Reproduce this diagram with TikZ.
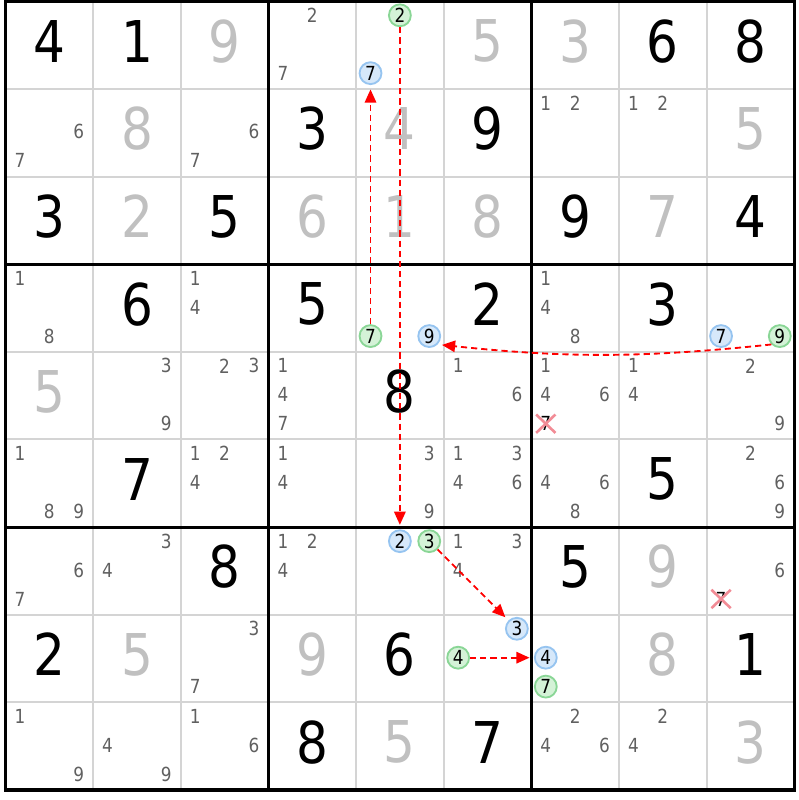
\documentclass[tikz,border=0pt]{standalone}
\usepackage{fontspec}
\setmainfont{DejaVu Sans}[FakeStretch=0.87]
\usepackage{tikz}
\usetikzlibrary{arrows.meta,shapes.misc}

\definecolor{solvedgray}{RGB}{192,192,192}
\definecolor{candgray}{RGB}{96,96,96}
\definecolor{rulegray}{RGB}{212,212,212}
\definecolor{pickfill}{RGB}{214,232,250}
\definecolor{pickline}{RGB}{150,196,240}
\definecolor{linkfill}{RGB}{212,242,215}
\definecolor{linkline}{RGB}{138,214,150}
\definecolor{elimred}{RGB}{242,140,150}

\begin{document}
\begin{tikzpicture}[>={Triangle[length=1.5mm,width=1.3mm]},
    given/.style={inner sep=0pt,font=\fontsize{18.7}{20}\selectfont,text=black},
    solved/.style={given,text=solvedgray},
    cand/.style={inner sep=0pt,font=\fontsize{6.3}{7}\selectfont,text=candgray},
    pick/.style={cand,circle,draw=pickline,fill=pickfill,text=black,minimum size=0.25cm,line width=0.6pt},
    link/.style={pick,draw=linkline,fill=linkfill},
    elim/.style={cand,cross out,draw=elimred,line width=0.85pt,minimum width=0.19cm,minimum height=0.18cm,text=black},
    thinrule/.style={draw=rulegray,line width=0.65pt},
    thickrule/.style={draw=black,line width=1pt},
    linkarrow/.style={->,red,line width=0.6pt,dash pattern=on 2pt off 1.3pt,shorten >=0.05cm}]
      \useasboundingbox (-0.063,0.015) rectangle (9.051,-9.114);

      \draw[thinrule] (1,0) -- (1,-9);
      \draw[thinrule] (2,0) -- (2,-9);
      \draw[thinrule] (4,0) -- (4,-9);
      \draw[thinrule] (5,0) -- (5,-9);
      \draw[thinrule] (7,0) -- (7,-9);
      \draw[thinrule] (8,0) -- (8,-9);
      \draw[thinrule] (0,-1) -- (9,-1);
      \draw[thinrule] (0,-2) -- (9,-2);
      \draw[thinrule] (0,-4) -- (9,-4);
      \draw[thinrule] (0,-5) -- (9,-5);
      \draw[thinrule] (0,-7) -- (9,-7);
      \draw[thinrule] (0,-8) -- (9,-8);
      \draw[thickrule] (3,0) -- (3,-9);
      \draw[thickrule] (6,0) -- (6,-9);
      \draw[thickrule] (0,-3) -- (9,-3);
      \draw[thickrule] (0,-6) -- (9,-6);
      \draw[thickrule] (0,0) rectangle (9,-9);

      \node[given] (d11) at (0.5,-0.455) {4};
      \node[given] (d12) at (1.5,-0.455) {1};
      \node[solved] (d13) at (2.5,-0.455) {9};
      \node[cand] (c142) at (3.5,-0.16) {2};
      \node[cand] (c147) at (3.165,-0.82) {7};
      \node[link] (c152) at (4.5,-0.16) {2};
      \node[pick] (c157) at (4.165,-0.82) {7};
      \node[solved] (d16) at (5.5,-0.455) {5};
      \node[solved] (d17) at (6.5,-0.455) {3};
      \node[given] (d18) at (7.5,-0.455) {6};
      \node[given] (d19) at (8.5,-0.455) {8};

      \node[cand] (c216) at (0.835,-1.49) {6};
      \node[cand] (c217) at (0.165,-1.82) {7};
      \node[solved] (d22) at (1.5,-1.455) {8};
      \node[cand] (c236) at (2.835,-1.49) {6};
      \node[cand] (c237) at (2.165,-1.82) {7};
      \node[given] (d24) at (3.5,-1.455) {3};
      \node[solved] (d25) at (4.5,-1.455) {4};
      \node[given] (d26) at (5.5,-1.455) {9};
      \node[cand] (c271) at (6.165,-1.16) {1};
      \node[cand] (c272) at (6.5,-1.16) {2};
      \node[cand] (c281) at (7.165,-1.16) {1};
      \node[cand] (c282) at (7.5,-1.16) {2};
      \node[solved] (d29) at (8.5,-1.455) {5};

      \node[given] (d31) at (0.5,-2.455) {3};
      \node[solved] (d32) at (1.5,-2.455) {2};
      \node[given] (d33) at (2.5,-2.455) {5};
      \node[solved] (d34) at (3.5,-2.455) {6};
      \node[solved] (d35) at (4.5,-2.455) {1};
      \node[solved] (d36) at (5.5,-2.455) {8};
      \node[given] (d37) at (6.5,-2.455) {9};
      \node[solved] (d38) at (7.5,-2.455) {7};
      \node[given] (d39) at (8.5,-2.455) {4};

      \node[cand] (c411) at (0.165,-3.16) {1};
      \node[cand] (c418) at (0.5,-3.82) {8};
      \node[given] (d42) at (1.5,-3.455) {6};
      \node[cand] (c431) at (2.165,-3.16) {1};
      \node[cand] (c434) at (2.165,-3.49) {4};
      \node[given] (d44) at (3.5,-3.455) {5};
      \node[link] (c457) at (4.165,-3.82) {7};
      \node[pick] (c459) at (4.835,-3.82) {9};
      \node[given] (d46) at (5.5,-3.455) {2};
      \node[cand] (c471) at (6.165,-3.16) {1};
      \node[cand] (c474) at (6.165,-3.49) {4};
      \node[cand] (c478) at (6.5,-3.82) {8};
      \node[given] (d48) at (7.5,-3.455) {3};
      \node[pick] (c497) at (8.165,-3.82) {7};
      \node[link] (c499) at (8.835,-3.82) {9};

      \node[solved] (d51) at (0.5,-4.455) {5};
      \node[cand] (c523) at (1.835,-4.16) {3};
      \node[cand] (c529) at (1.835,-4.82) {9};
      \node[cand] (c532) at (2.5,-4.16) {2};
      \node[cand] (c533) at (2.835,-4.16) {3};
      \node[cand] (c541) at (3.165,-4.16) {1};
      \node[cand] (c544) at (3.165,-4.49) {4};
      \node[cand] (c547) at (3.165,-4.82) {7};
      \node[given] (d55) at (4.5,-4.455) {8};
      \node[cand] (c561) at (5.165,-4.16) {1};
      \node[cand] (c566) at (5.835,-4.49) {6};
      \node[cand] (c571) at (6.165,-4.16) {1};
      \node[cand] (c574) at (6.165,-4.49) {4};
      \node[cand] (c576) at (6.835,-4.49) {6};
      \node[elim] (c577) at (6.165,-4.82) {7};
      \node[cand] (c581) at (7.165,-4.16) {1};
      \node[cand] (c584) at (7.165,-4.49) {4};
      \node[cand] (c592) at (8.5,-4.16) {2};
      \node[cand] (c599) at (8.835,-4.82) {9};

      \node[cand] (c611) at (0.165,-5.16) {1};
      \node[cand] (c618) at (0.5,-5.82) {8};
      \node[cand] (c619) at (0.835,-5.82) {9};
      \node[given] (d62) at (1.5,-5.455) {7};
      \node[cand] (c631) at (2.165,-5.16) {1};
      \node[cand] (c632) at (2.5,-5.16) {2};
      \node[cand] (c634) at (2.165,-5.49) {4};
      \node[cand] (c641) at (3.165,-5.16) {1};
      \node[cand] (c644) at (3.165,-5.49) {4};
      \node[cand] (c653) at (4.835,-5.16) {3};
      \node[cand] (c659) at (4.835,-5.82) {9};
      \node[cand] (c661) at (5.165,-5.16) {1};
      \node[cand] (c663) at (5.835,-5.16) {3};
      \node[cand] (c664) at (5.165,-5.49) {4};
      \node[cand] (c666) at (5.835,-5.49) {6};
      \node[cand] (c674) at (6.165,-5.49) {4};
      \node[cand] (c676) at (6.835,-5.49) {6};
      \node[cand] (c678) at (6.5,-5.82) {8};
      \node[given] (d68) at (7.5,-5.455) {5};
      \node[cand] (c692) at (8.5,-5.16) {2};
      \node[cand] (c696) at (8.835,-5.49) {6};
      \node[cand] (c699) at (8.835,-5.82) {9};

      \node[cand] (c716) at (0.835,-6.49) {6};
      \node[cand] (c717) at (0.165,-6.82) {7};
      \node[cand] (c723) at (1.835,-6.16) {3};
      \node[cand] (c724) at (1.165,-6.49) {4};
      \node[given] (d73) at (2.5,-6.455) {8};
      \node[cand] (c741) at (3.165,-6.16) {1};
      \node[cand] (c742) at (3.5,-6.16) {2};
      \node[cand] (c744) at (3.165,-6.49) {4};
      \node[pick] (c752) at (4.5,-6.16) {2};
      \node[link] (c753) at (4.835,-6.16) {3};
      \node[cand] (c761) at (5.165,-6.16) {1};
      \node[cand] (c763) at (5.835,-6.16) {3};
      \node[cand] (c764) at (5.165,-6.49) {4};
      \node[given] (d77) at (6.5,-6.455) {5};
      \node[solved] (d78) at (7.5,-6.455) {9};
      \node[cand] (c796) at (8.835,-6.49) {6};
      \node[elim] (c797) at (8.165,-6.82) {7};

      \node[given] (d81) at (0.5,-7.455) {2};
      \node[solved] (d82) at (1.5,-7.455) {5};
      \node[cand] (c833) at (2.835,-7.16) {3};
      \node[cand] (c837) at (2.165,-7.82) {7};
      \node[solved] (d84) at (3.5,-7.455) {9};
      \node[given] (d85) at (4.5,-7.455) {6};
      \node[pick] (c863) at (5.835,-7.16) {3};
      \node[link] (c864) at (5.165,-7.49) {4};
      \node[pick] (c874) at (6.165,-7.49) {4};
      \node[link] (c877) at (6.165,-7.82) {7};
      \node[solved] (d88) at (7.5,-7.455) {8};
      \node[given] (d89) at (8.5,-7.455) {1};

      \node[cand] (c911) at (0.165,-8.16) {1};
      \node[cand] (c919) at (0.835,-8.82) {9};
      \node[cand] (c924) at (1.165,-8.49) {4};
      \node[cand] (c929) at (1.835,-8.82) {9};
      \node[cand] (c931) at (2.165,-8.16) {1};
      \node[cand] (c936) at (2.835,-8.49) {6};
      \node[given] (d94) at (3.5,-8.455) {8};
      \node[solved] (d95) at (4.5,-8.455) {5};
      \node[given] (d96) at (5.5,-8.455) {7};
      \node[cand] (c972) at (6.5,-8.16) {2};
      \node[cand] (c974) at (6.165,-8.49) {4};
      \node[cand] (c976) at (6.835,-8.49) {6};
      \node[cand] (c982) at (7.5,-8.16) {2};
      \node[cand] (c984) at (7.165,-8.49) {4};
      \node[solved] (d99) at (8.5,-8.455) {3};

      \path[linkarrow]
      (c457) edge (c157)
      (c152) edge (c752)
      (c499.south west) edge [bend left=6] (c459.south east)
      (c753) edge (c863)
      (c864) edge (c874)
      ;
    \end{tikzpicture}
\end{document}
